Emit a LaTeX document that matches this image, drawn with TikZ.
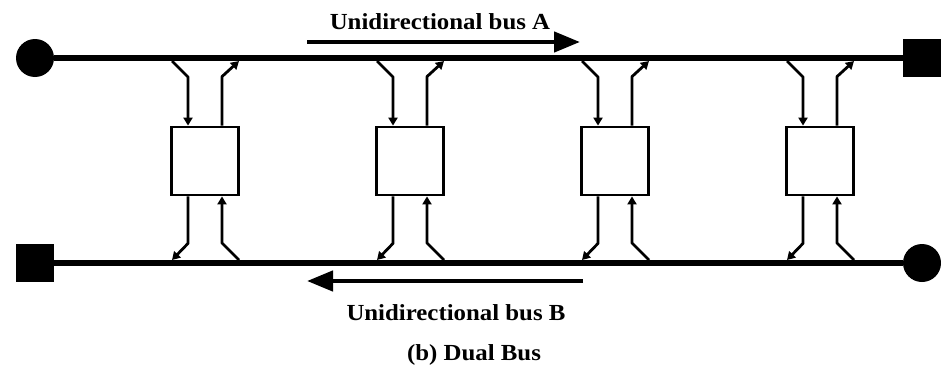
\documentclass[tikz,border=0pt]{standalone}
\usepackage{fontspec}
\setmainfont{Liberation Serif}
\usetikzlibrary{arrows.meta}
\begin{document}
\begin{tikzpicture}[x=1pt,y=-1pt,
    bus/.style={line width=5.5pt},
    tap/.style={line width=2.8pt, line join=round, -{Triangle[length=8pt,width=9pt]}},
    station/.style={draw, line width=2.8pt, fill=white, minimum width=67pt, minimum height=68pt, inner sep=0pt},
    flow/.style={line width=4.5pt, -{Triangle[length=26pt,width=20pt]}},
    bustext/.style={font=\fontsize{23}{27}\selectfont\bfseries, xscale=1.08, anchor=base, inner sep=0pt}]
    \useasboundingbox (0,0) rectangle (941,364);

    % Bus ends: dot and block
    \node[circle, fill, minimum size=38pt, inner sep=0pt] (aend) at (35,58) {};
    \node[fill, minimum size=38pt, inner sep=0pt] (astop) at (922,58) {};
    \node[fill, minimum size=38pt, inner sep=0pt] (bstop) at (35,263) {};
    \node[circle, fill, minimum size=38pt, inner sep=0pt] (bend) at (922,263) {};

    % Draw the two bus lines
    \draw[bus] (aend) -- (astop);
    \draw[bus] (bstop) -- (bend);

    % Stations and their taps on both buses
    \foreach \i/\cx in {1/205, 2/410, 3/615, 4/820} {
        \node[station] (st\i) at (\cx,161) {};
        \coordinate (ain\i) at (\cx-33,61);
        \coordinate (aout\i) at (\cx+34,61);
        \coordinate (bout\i) at (\cx-33,260);
        \coordinate (bin\i) at (\cx+34,260);
        \draw[tap] (ain\i) -- ++(16,16) -- ([xshift=-17pt]st\i.north);
        \draw[tap] ([xshift=17pt]st\i.north) -- ++(0,-49) -- (aout\i);
        \draw[tap] ([xshift=-17pt]st\i.south) -- ++(0,47) -- (bout\i);
        \draw[tap] (bin\i) -- ++(-17,-17) -- ([xshift=17pt]st\i.south);
    }

    % Direction arrows with labels
    \coordinate (afrom) at (307,42);
    \coordinate (ato) at (580,42);
    \coordinate (bfrom) at (583,281);
    \coordinate (bto) at (307,281);
    \draw[flow] (afrom) -- (ato);
    \draw[flow] (bfrom) -- (bto);
    \node[bustext] (alabel) at (440,29) {Unidirectional bus A};
    \node[bustext] (blabel) at (456,320) {Unidirectional bus B};
    \node[bustext] (caption) at (474,360) {(b) Dual Bus};

\end{tikzpicture}
\end{document}
